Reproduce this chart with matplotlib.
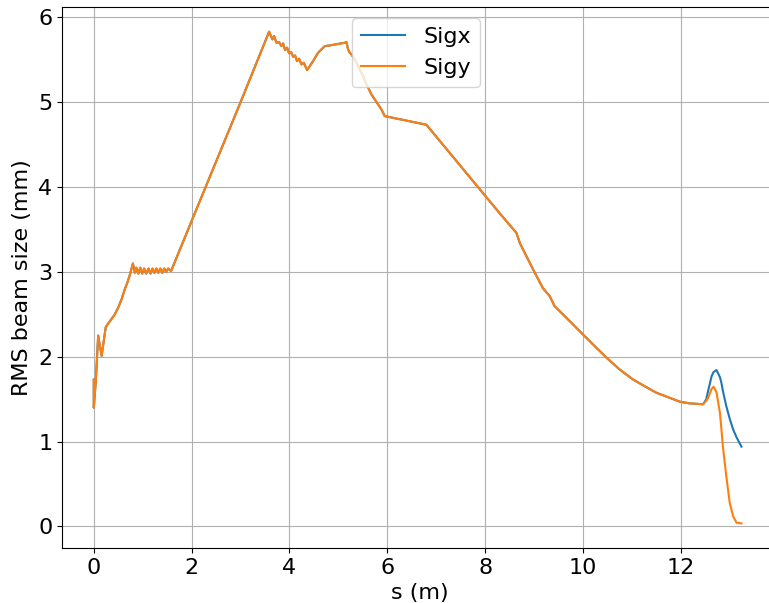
import matplotlib
matplotlib.use("Agg")
import matplotlib.pyplot as plt
import numpy as np

# Beam envelope along the beamline (s in m, RMS size in mm); both planes coincide up to ~12.45 m
s_common = [0.0, 0.0, 0.04, 0.09, 0.16, 0.245, 0.33, 0.42, 0.50, 0.57, 0.63, 0.69, 0.74, 0.80,
            0.84, 0.87, 0.91, 0.95, 0.99, 1.03, 1.07, 1.12, 1.16, 1.20, 1.24,
            1.28, 1.32, 1.36, 1.40, 1.44, 1.48, 1.52, 1.58,
            2.0, 2.5, 3.0, 3.584,
            3.652, 3.686, 3.734, 3.788, 3.836, 3.870, 3.911, 3.952, 3.993, 4.034,
            4.074, 4.115, 4.156, 4.197, 4.245, 4.293, 4.361,
            4.483, 4.585, 4.722, 4.824, 5.131, 5.165, 5.199, 5.233, 5.267,
            5.335, 5.403, 5.505, 5.574, 5.628, 5.676, 5.744, 5.812, 5.881, 5.948,
            6.80, 8.30, 8.64, 8.71, 8.98, 9.18, 9.32, 9.42, 9.66,
            10.0, 10.25, 10.48, 10.75, 11.02, 11.30, 11.50, 11.71, 11.98, 12.18, 12.455]
sig_common = [1.73, 1.40, 1.70, 2.25, 2.01, 2.35, 2.42, 2.49, 2.58, 2.68, 2.79, 2.88, 2.97, 3.10,
              2.99, 3.05, 2.98, 3.05, 2.98, 3.04, 2.98, 3.04, 2.98, 3.04, 2.99,
              3.04, 2.99, 3.04, 2.99, 3.04, 3.00, 3.04, 3.01,
              3.60, 4.30, 5.00, 5.832,
              5.741, 5.780, 5.702, 5.709, 5.662, 5.694, 5.615, 5.643, 5.576, 5.591,
              5.537, 5.552, 5.485, 5.513, 5.446, 5.466, 5.379,
              5.485, 5.584, 5.662, 5.670, 5.702, 5.709, 5.623, 5.584, 5.564,
              5.505, 5.426, 5.308, 5.210, 5.151, 5.092, 5.033, 4.975, 4.916, 4.837,
              4.735, 3.69, 3.46, 3.34, 3.03, 2.81, 2.715, 2.597, 2.46,
              2.263, 2.12, 1.99, 1.85, 1.733, 1.64, 1.576, 1.53, 1.47, 1.45, 1.44]

s_tail = [12.52, 12.56, 12.63, 12.67, 12.73, 12.80, 12.83, 12.86, 12.93,
          13.00, 13.07, 13.14, 13.24]
sigx_tail = [1.497, 1.60, 1.77, 1.82, 1.843, 1.76, 1.694, 1.60, 1.418,
             1.27, 1.143, 1.05, 0.94]
sigy_tail = [1.48, 1.517, 1.62, 1.647, 1.58, 1.34, 1.15, 0.947, 0.593,
             0.279, 0.12, 0.044, 0.035]

s = np.array(s_common + s_tail)
sigx = np.array(sig_common + sigx_tail)
sigy = np.array(sig_common + sigy_tail)

plt.rcParams["font.size"] = 16

fig = plt.figure(figsize=(7.69, 6.03), dpi=100)
ax = fig.add_axes([0.0806, 0.0912, 0.93, 0.897])
ax.plot(s, sigx, label="Sigx")
ax.plot(s, sigy, label="Sigy")
ax.set_xlim(-0.65, 13.97)
ax.set_xlabel("s (m)")
ax.set_ylabel("RMS beam size (mm)")
ax.grid(True)
ax.spines["right"].set_visible(False)
ax.legend(loc="upper left", bbox_to_anchor=(0.39, 1.0))
ax.set_xticks([0, 2, 4, 6, 8, 10, 12])
ax.set_yticks([0, 1, 2, 3, 4, 5, 6])
fig.savefig("out.png", dpi=100)
